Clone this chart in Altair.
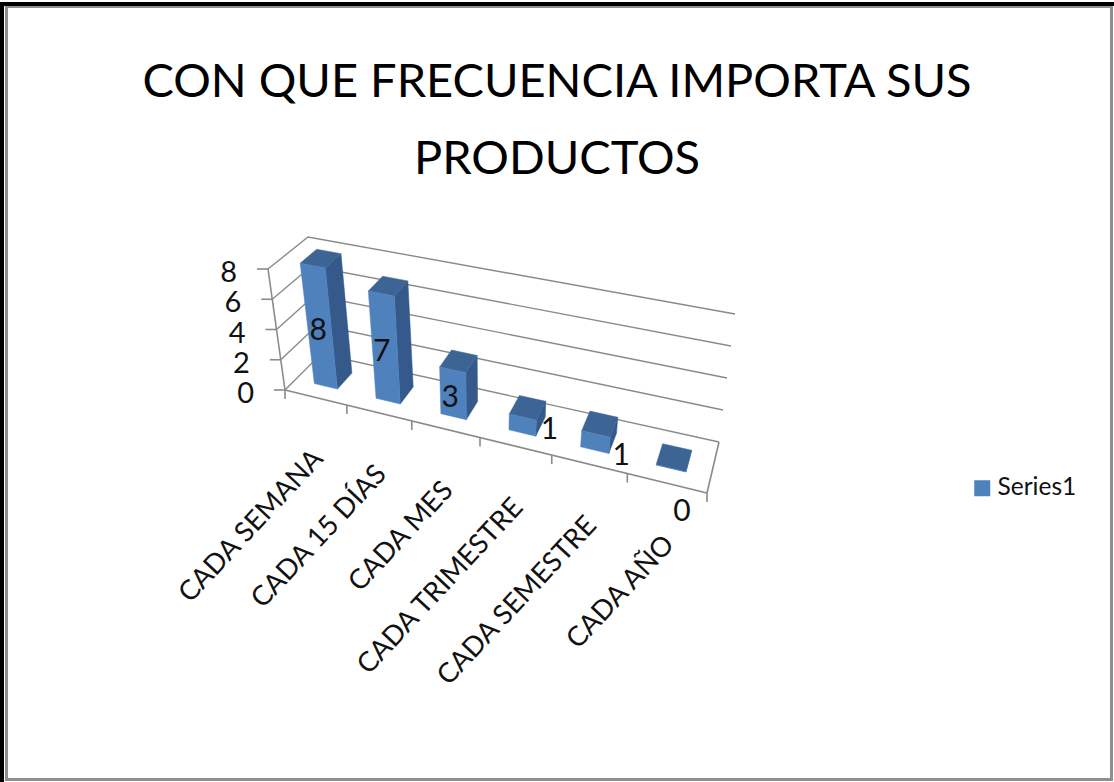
import altair as alt
import pandas as pd

categories = ["CADA SEMANA", "CADA 15 DÍAS", "CADA MES", "CADA TRIMESTRE", "CADA SEMESTRE", "CADA AÑO"]
values = [8, 7, 3, 1, 1, 0]
value_ticks = [0, 2, 4, 6, 8]
title_lines = ["CON QUE FRECUENCIA IMPORTA SUS", "PRODUCTOS"]
series_name = "Series1"

W, H, TOP = 1114, 782, 200
FONT = "Lato"
MAX_VALUE = 8

# Corners of the 3D box in page pixels: (front/back, left/right, floor/ceiling)
BOX = {
    (0, 0, 0): (285, 390), (0, 1, 0): (707, 493),
    (1, 0, 0): (321, 354), (1, 1, 0): (719, 442),
    (0, 0, 1): (268, 269), (0, 1, 1): (729, 357),
    (1, 0, 1): (308, 237), (1, 1, 1): (735, 314),
}
FORESHORTEN = 0.859
BAR_HALF = 0.19
BAR_FRONT, BAR_BACK = 0.30, 0.73


def project(cat, depth, value):
    """Map category position, depth (0-1) and value to page pixels."""
    u = cat / len(categories)
    u = FORESHORTEN * u / (1 + u * (FORESHORTEN - 1))
    w = value / MAX_VALUE
    px = py = 0.0
    for (d, r, t), (cx, cy) in BOX.items():
        k = (depth if d else 1 - depth) * (u if r else 1 - u) * (w if t else 1 - w)
        px += k * cx
        py += k * cy
    return px, py


def polygons(corners):
    rows = []
    for i, v in enumerate(values):
        for seq, (side, depth, level) in enumerate(corners):
            x, y = project(i + 0.5 + side * BAR_HALF, depth, level * v)
            rows.append({"bar": i, "seq": seq, "x": x, "y": y, "serie": series_name})
    return pd.DataFrame(rows)


front = polygons([(-1, BAR_FRONT, 0), (1, BAR_FRONT, 0), (1, BAR_FRONT, 1), (-1, BAR_FRONT, 1)])
side = polygons([(1, BAR_FRONT, 0), (1, BAR_BACK, 0), (1, BAR_BACK, 1), (1, BAR_FRONT, 1)])
top = polygons([(-1, BAR_FRONT, 1), (1, BAR_FRONT, 1), (1, BAR_BACK, 1), (-1, BAR_BACK, 1)])

x_enc = alt.X("x:Q", scale=alt.Scale(domain=[0, W], range=[0, W]), axis=None)
y_enc = alt.Y("y:Q", scale=alt.Scale(domain=[TOP, H], range=[0, H - TOP]), axis=None)
x2_enc = alt.X2("x2:Q")
y2_enc = alt.Y2("y2:Q")

# Gridlines wrap from the left wall onto the back wall
grid_rows = []
for level in value_ticks:
    for seq, (c, d) in enumerate([(0, 0), (0, 1), (len(categories), 1)]):
        x, y = project(c, d, level)
        grid_rows.append({"level": level, "seq": seq, "x": x, "y": y})
grid = alt.Chart(pd.DataFrame(grid_rows)).mark_line(color="#8a8a8a", strokeWidth=1.4).encode(
    x=x_enc, y=y_enc, detail="level:N", order="seq:Q")

# Axis lines: value axis, front floor edge and right floor edge
edge_rows = []
for name, a, b in [("value", (0, 0, 0), (0, 0, MAX_VALUE)),
                   ("front", (0, 0, 0), (len(categories), 0, 0)),
                   ("right", (len(categories), 0, 0), (len(categories), 1, 0))]:
    ax, ay = project(*a)
    bx, by = project(*b)
    edge_rows.append({"x": ax, "y": ay, "x2": bx, "y2": by})
edges = alt.Chart(pd.DataFrame(edge_rows)).mark_rule(color="#8a8a8a", strokeWidth=1.6).encode(
    x=x_enc, y=y_enc, x2=x2_enc, y2=y2_enc)

tick_rows = []
for i in range(len(categories) + 1):
    x, y = project(i, 0, 0)
    tick_rows.append({"x": x, "y": y, "x2": x, "y2": y + 9})
for level in value_ticks:
    x, y = project(0, 0, level)
    tick_rows.append({"x": x - 11, "y": y, "x2": x, "y2": y})
ticks = alt.Chart(pd.DataFrame(tick_rows)).mark_rule(color="#8a8a8a", strokeWidth=1.6).encode(
    x=x_enc, y=y_enc, x2=x2_enc, y2=y2_enc)


def faces(table, color):
    return alt.Chart(table).mark_line(fill=color, stroke=color, strokeWidth=0.5,
                                      interpolate="linear-closed").encode(
        x=x_enc, y=y_enc, detail="bar:N", order="seq:Q")


side_faces = faces(side, "#34598a")
top_faces = faces(top, "#3c6595")
front_faces = alt.Chart(front).mark_line(interpolate="linear-closed", strokeWidth=0.5, stroke="#4f81bd").encode(
    x=x_enc, y=y_enc, detail="bar:N", order="seq:Q",
    fill=alt.Fill("serie:N", scale=alt.Scale(domain=[series_name], range=["#4f81bd"]),
                  legend=alt.Legend(title=None, orient="none", legendX=970, legendY=476 - TOP,
                                    symbolType="square", symbolSize=256, symbolStrokeWidth=0,
                                    labelFont=FONT, labelFontSize=24.5, labelColor="#111111",
                                    labelOffset=3, padding=0)))

# Value numbers left of the value axis
value_rows = []
for level in value_ticks:
    x, y = project(0, 0, level)
    value_rows.append({"x": x - 31, "y": y + 4, "t": str(level)})
value_labels = alt.Chart(pd.DataFrame(value_rows)).mark_text(
    font=FONT, fontSize=29, align="right", baseline="middle", color="#111111").encode(
    x=x_enc, y=y_enc, text="t:N")

# Category names rotated under the front edge
cat_rows = []
for i, name in enumerate(categories):
    x, y = project(i + 0.5, 0, 0)
    cat_rows.append({"x": x + 3, "y": y + 57, "t": name})
cat_labels = alt.Chart(pd.DataFrame(cat_rows)).mark_text(
    font=FONT, fontSize=27.5, align="right", baseline="middle", angle=313, color="#111111").encode(
    x=x_enc, y=y_enc, text="t:N")

# Value labels beside or on their bars
label_shift = [(-1, 5), (-3, 5), (-3, 5), (27, 5), (26, 14), (11, 44)]
bar_rows = []
for i, v in enumerate(values):
    x, y = project(i + 0.5, BAR_FRONT, v / 2)
    bar_rows.append({"x": x + label_shift[i][0], "y": y + label_shift[i][1], "t": str(v)})
bar_labels = alt.Chart(pd.DataFrame(bar_rows)).mark_text(
    font=FONT, fontSize=30, align="center", baseline="middle", color="#111111").encode(
    x=x_enc, y=y_enc, text="t:N")

# Picture frame: dark outer line with a grey inner line


def strip(x0, x1, y0, y1, color):
    return alt.Chart(pd.DataFrame({"n": [0]})).mark_rect(color=color).encode(
        x=alt.value(x0), x2=alt.value(x1), y=alt.value(y0 - TOP), y2=alt.value(y1 - TOP))


frame = [
    strip(0, W, 2, 6, "#000000"), strip(0, 4, 2, H, "#000000"),
    strip(0, 4, 778, H, "#000000"),
    strip(5, 1113, 6, 8, "#8f8f8f"), strip(5, 8, 6, 781, "#8f8f8f"),
    strip(1110, 1113, 6, 781, "#8f8f8f"), strip(5, 1113, 778, 781, "#8f8f8f"),
]

chart = alt.layer(
    *frame, grid, edges, ticks, side_faces, top_faces, front_faces,
    value_labels, cat_labels, bar_labels,
).properties(
    width=W, height=H - TOP,
    padding={"left": 0, "right": 0, "top": TOP, "bottom": 0},
    autosize=alt.AutoSizeParams(type="none"),
    background="white",
    title=alt.TitleParams(text=title_lines, font=FONT, fontSize=47, fontWeight="normal",
                          color="#000000", anchor="middle", frame="group",
                          baseline="alphabetic", lineHeight=77, dy=219, offset=0),
).configure_view(stroke=None)

chart.save("out.html", embed_options={"renderer": "svg", "actions": False})
